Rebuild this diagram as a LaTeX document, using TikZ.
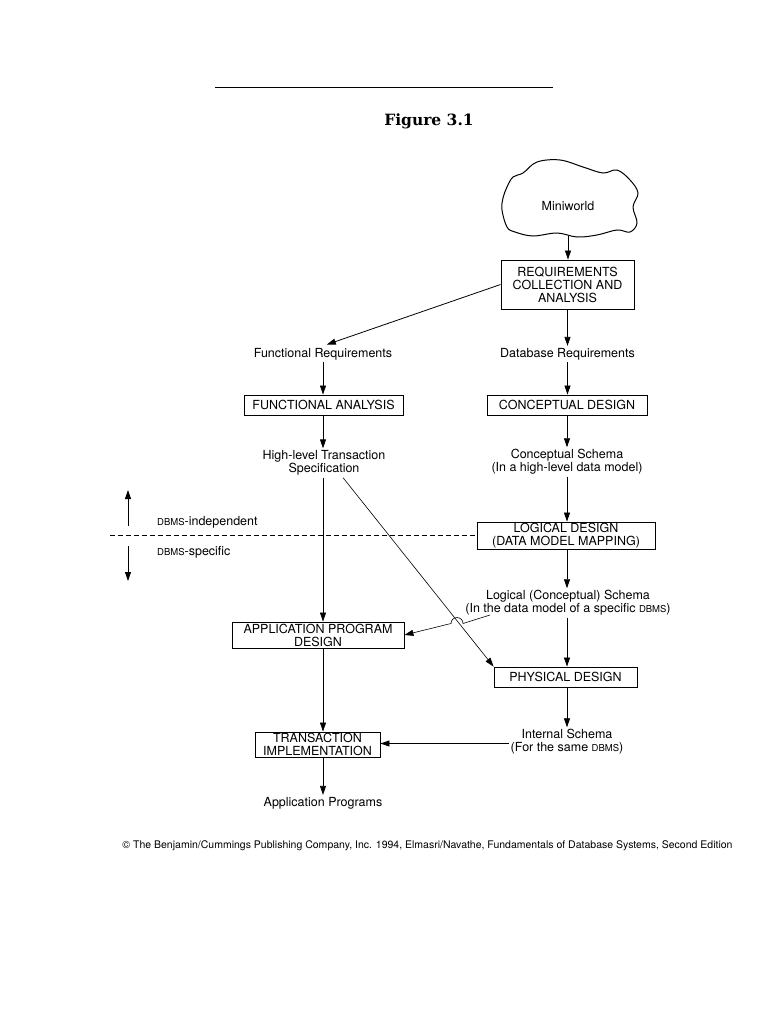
\documentclass[tikz,border=0pt]{standalone}
\usepackage{fontspec}
\setmainfont{TeX Gyre Heros}
\newfontfamily\figfont{DejaVu Serif}
\usepackage{tikz}
\usetikzlibrary{arrows.meta, calc}
\newcommand{\dbms}{{\fontsize{9.5}{10}\selectfont DBMS}}
\tikzset{
    arr/.style={-{Triangle[length=9pt,width=6pt]}, line width=0.8pt},
    box/.style={draw, line width=0.9pt, align=center, inner sep=1pt},
    lbl/.style={align=center, inner sep=2pt}
}

\begin{document}
\begin{tikzpicture}[x=1pt, y=-1pt, font=\fontsize{12.5}{13}\selectfont]
    \useasboundingbox (0,0) rectangle (768,1024);
    \draw[line width=0.8pt] (215,87) -- (553,87);
    \node (fig) at (429,121) {\figfont\bfseries\fontsize{15.5}{17}\selectfont Figure 3.1};

    \draw[line width=1pt] plot[smooth cycle, tension=0.6] coordinates {
        (507,187) (503,198) (502,210) (507,227) (515,232) (533,236) (557,233)
        (577,237) (597,235) (617,230) (630,232) (637,223) (633,207) (638,193)
        (630,180) (617,170) (603,173) (583,167) (560,160) (537,162) (523,173) (513,177)};
    \node[lbl] (mini) at (568,206) {Miniworld};
    \coordinate (mini-b) at (568,236);

    \node[box, minimum width=133pt, minimum height=49pt] (req) at (567.5,284.5) {REQUIREMENTS\\COLLECTION AND\\ANALYSIS};
    \node[lbl] (fr) at (323,354) {Functional Requirements};
    \node[lbl] (dr) at (567.5,354) {Database Requirements};
    \node[box, minimum width=159pt, minimum height=20pt] (fa) at (323.5,405) {FUNCTIONAL ANALYSIS};
    \node[box, minimum width=160pt, minimum height=20pt] (cd) at (567,405) {CONCEPTUAL DESIGN};
    \node[lbl] (hlt) at (324,463) {High-level Transaction\\Specification};
    \node[lbl] (cs) at (567,462) {Conceptual Schema\\(In a high-level data model)};
    \node[box, minimum width=178pt, minimum height=27pt] (ld) at (566,535.5) {LOGICAL DESIGN\\(DATA MODEL MAPPING)};
    \node[lbl] (ls) at (568,603) {Logical (Conceptual) Schema\\(In the data model of a specific \dbms)};
    \node[box, minimum width=172pt, minimum height=26pt] (apd) at (318,635) {APPLICATION PROGRAM\\DESIGN};
    \node[box, minimum width=143pt, minimum height=20pt] (pd) at (565.5,677) {PHYSICAL DESIGN};
    \node[lbl] (is) at (567,742) {Internal Schema\\(For the same \dbms)};
    \node[box, minimum width=125pt, minimum height=25pt] (ti) at (317.5,744.5) {TRANSACTION\\IMPLEMENTATION};
    \node[lbl] (ap) at (323,803) {Application Programs};

    \node[lbl, anchor=west] (indep) at (155,522) {\dbms-independent};
    \node[lbl, anchor=west] (spec) at (155,552) {\dbms-specific};
    \coordinate (up-a) at (128,526);
    \coordinate (up-b) at (128,490);
    \coordinate (dn-a) at (128,546);
    \coordinate (dn-b) at (128,581);
    \coordinate (dash-l) at (110,535.5);
    \coordinate (ls-l) at (490,615);

    \draw[arr] (mini-b) -- (mini-b |- req.north);
    \draw[arr, shorten >=4pt] (req.west) -- (fr.north);
    \draw[arr] (req.south) -- (dr.north);
    \draw[arr] (fr.south) -- (fr.south |- fa.north);
    \draw[arr] (dr.south) -- (dr.south |- cd.north);
    \draw[arr] (fr.south |- fa.south) -- (fr.south |- hlt.north);
    \draw[arr] (cd.south) -- (cs.north);
    \draw[arr] (cs.south) -- (cs.south |- ld.north);
    \draw[arr] (cs.south |- ld.south) -- (cs.south |- ls.north);
    \draw[arr] (cs.south |- ls.south) -- (cs.south |- pd.north);
    \draw[arr] (cs.south |- pd.south) -- (cs.south |- is.north);
    \draw[arr] (fr.south |- hlt.south) -- (fr.south |- apd.north);
    \draw[arr, line width=0.6pt] ($(hlt.south)+(19,0)$) -- (pd.north west);
    \draw[arr, line width=0.6pt] (ls-l) -- (463,623.5) arc[start angle=0, end angle=-180, radius=6] -- (apd.east);
    \draw[arr] (fr.south |- apd.south) -- (fr.south |- ti.north);
    \draw[arr] ([yshift=-1.5pt]is.west) -- ([yshift=-1.5pt]is.west -| ti.east);
    \draw[arr] (fr.south |- ti.south) -- (ap.north);

    \draw[line width=0.7pt, dash pattern=on 5pt off 3pt] (dash-l) -- (ld.west);
    \draw[arr] (up-a) -- (up-b);
    \draw[arr] (dn-a) -- (dn-b);

    \node (copy) at (427.5,846) {\fontsize{10.5}{12}\selectfont \textcopyright{} The Benjamin/Cummings Publishing Company, Inc. 1994, Elmasri/Navathe, Fundamentals of Database Systems, Second Edition};
\end{tikzpicture}
\end{document}
